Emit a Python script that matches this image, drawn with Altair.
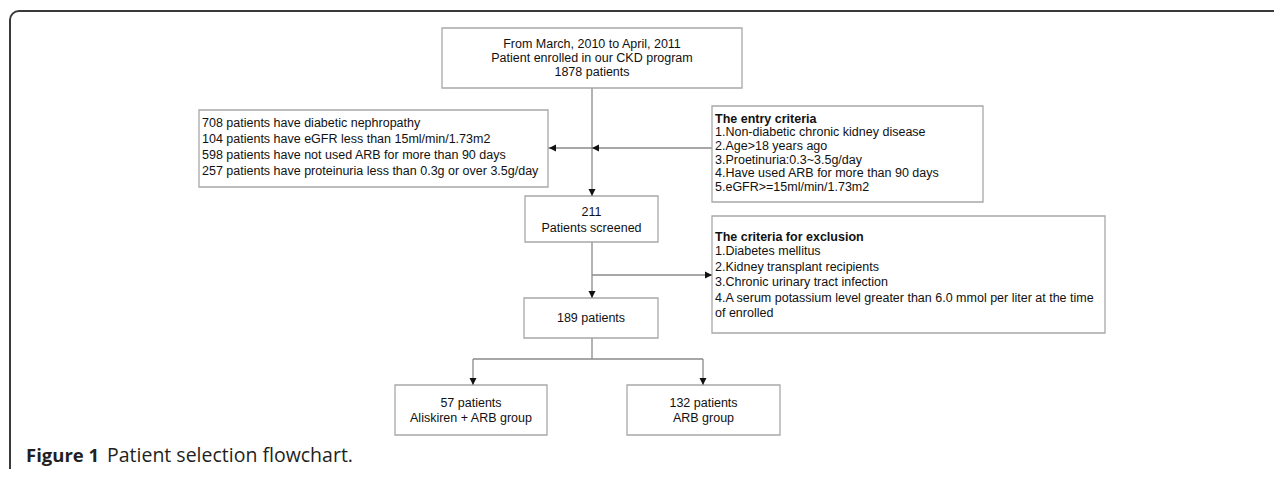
import altair as alt
import pandas as pd

# ---------------- layout data (page pixel coordinates) ----------------
W, H = 1266, 461
X0, Y0 = 8, 8

# outer figure frame (runs off the right / bottom edge)
frame = pd.DataFrame({"x1": [10], "x2": [1400], "y1": [11], "y2": [700]})

# flowchart boxes
box_x1 = [442, 199, 712, 525, 712, 524, 395, 627]
box_x2 = [742, 548, 983, 658, 1105, 658, 547, 780]
box_y1 = [28, 110, 106, 196, 216, 298, 385, 385]
box_y2 = [88, 187, 202, 242, 333, 338, 435, 435]

# centred texts
c_text = ["From March, 2010 to April, 2011", "Patient enrolled in our CKD program", "1878 patients",
          "211", "Patients screened", "189 patients",
          "57 patients", "Aliskiren + ARB group", "132 patients", "ARB group"]
c_x = [592, 592, 592, 591.5, 591.5, 591, 471, 471, 703.5, 703.5]
c_y = [44, 58, 72, 212, 227.5, 318, 402.5, 417.5, 402.5, 417.5]

# left-aligned texts
l_text = ["708 patients have diabetic nephropathy",
          "104 patients have eGFR less than 15ml/min/1.73m2",
          "598 patients have not used ARB for more than 90 days",
          "257 patients have proteinuria less than 0.3g or over 3.5g/day",
          "1.Non-diabetic chronic kidney disease", "2.Age>18 years ago",
          "3.Proetinuria:0.3~3.5g/day", "4.Have used ARB for more than 90 days",
          "5.eGFR>=15ml/min/1.73m2",
          "1.Diabetes mellitus", "2.Kidney transplant recipients",
          "3.Chronic urinary tract infection",
          "4.A serum potassium level greater than 6.0 mmol per liter at the time",
          "of enrolled"]
l_x = [202] * 4 + [715] * 5 + [715] * 5
l_y = [123, 139, 155, 171,
       132, 145.5, 159.5, 173, 187,
       251, 266.5, 282, 297.5, 312.5]

# bold headings
b_text = ["The entry criteria", "The criteria for exclusion"]
b_x = [715, 715]
b_y = [118.5, 236.5]

# connector lines
ln_x1 = [592, 548, 592, 592, 592, 473, 473, 703]
ln_x2 = [592, 712, 592, 712, 592, 703, 473, 703]
ln_y1 = [88, 148, 242, 275, 338, 359, 359, 359]
ln_y2 = [196, 148, 298, 275, 359, 359, 385, 385]

# arrow heads (tip position + direction)
ar_x = [592, 549, 592, 712, 592, 473, 703]
ar_y = [196, 148, 148, 275, 298, 385, 385]
ar_dir = ["down", "left", "left", "right", "down", "down", "down"]
shapes = {
    "down": "M-3.5,-7L3.5,-7L0,0Z",
    "left": "M7,-3.5L7,3.5L0,0Z",
    "right": "M-7,-3.5L-7,3.5L0,0Z",
}

# caption (alphabetic baseline)
cap_bold = "Figure 1"
cap_rest = "Patient selection flowchart."
cap_x = [26, 107]
cap_y = 462

# ---------------- chart ----------------
xs = alt.Scale(domain=[X0, X0 + W], nice=False, zero=False)
ys = alt.Scale(domain=[Y0, Y0 + H], reverse=True, nice=False, zero=False)


def X(f):
    return alt.X(f, type="quantitative", scale=xs, axis=None)


def Y(f):
    return alt.Y(f, type="quantitative", scale=ys, axis=None)


frame_layer = alt.Chart(frame).mark_rect(
    clip=True, cornerRadius=9, fillOpacity=0, stroke="#3a3a3a", strokeWidth=2
).encode(x=X("x1"), x2="x2", y=Y("y1"), y2="y2")

boxes = pd.DataFrame({"x1": box_x1, "x2": box_x2, "y1": box_y1, "y2": box_y2})
box_layer = alt.Chart(boxes).mark_rect(
    fill="white", stroke="#a8a8a8", strokeWidth=1.3
).encode(x=X("x1"), x2="x2", y=Y("y1"), y2="y2")

lines = pd.DataFrame({"x1": ln_x1, "x2": ln_x2, "y1": ln_y1, "y2": ln_y2})
line_layer = alt.Chart(lines).mark_rule(color="#8a8a8a", strokeWidth=1.3).encode(
    x=X("x1"), x2="x2", y=Y("y1"), y2="y2"
)

arrows = pd.DataFrame({"x": ar_x, "y": ar_y, "shape": [shapes[d] for d in ar_dir]})
arrow_layer = alt.Chart(arrows).mark_point(
    filled=True, color="#111111", size=4, opacity=1
).encode(x=X("x"), y=Y("y"), shape=alt.Shape("shape:N", scale=None))

ctext = pd.DataFrame({"x": c_x, "y": c_y, "t": c_text})
ctext_layer = alt.Chart(ctext).mark_text(
    font="Liberation Sans", fontSize=12.5, align="center", baseline="middle", color="#111111"
).encode(x=X("x"), y=Y("y"), text="t:N")

ltext = pd.DataFrame({"x": l_x, "y": l_y, "t": l_text})
ltext_layer = alt.Chart(ltext).mark_text(
    font="Liberation Sans", fontSize=12.5, align="left", baseline="middle", color="#111111"
).encode(x=X("x"), y=Y("y"), text="t:N")

btext = pd.DataFrame({"x": b_x, "y": b_y, "t": b_text})
btext_layer = alt.Chart(btext).mark_text(
    font="Liberation Sans", fontSize=12.5, fontWeight="bold", align="left",
    baseline="middle", color="#111111"
).encode(x=X("x"), y=Y("y"), text="t:N")

cap1 = pd.DataFrame({"x": [cap_x[0]], "y": [cap_y], "t": [cap_bold]})
cap1_layer = alt.Chart(cap1).mark_text(
    font="Open Sans", fontSize=18.5, fontWeight="bold", align="left",
    baseline="alphabetic", color="#231f20"
).encode(x=X("x"), y=Y("y"), text="t:N")

cap2 = pd.DataFrame({"x": [cap_x[1]], "y": [cap_y], "t": [cap_rest]})
cap2_layer = alt.Chart(cap2).mark_text(
    font="Open Sans", fontSize=19.5, align="left", baseline="alphabetic", color="#231f20"
).encode(x=X("x"), y=Y("y"), text="t:N")

chart = alt.layer(
    frame_layer, line_layer, box_layer, arrow_layer,
    ctext_layer, ltext_layer, btext_layer, cap1_layer, cap2_layer
).properties(
    width=W, height=H, padding=0,
    autosize=alt.AutoSizeParams(type="fit", contains="padding"),
).configure_view(strokeWidth=0)

chart.save("out.html", embed_options={"renderer": "svg", "actions": False})
